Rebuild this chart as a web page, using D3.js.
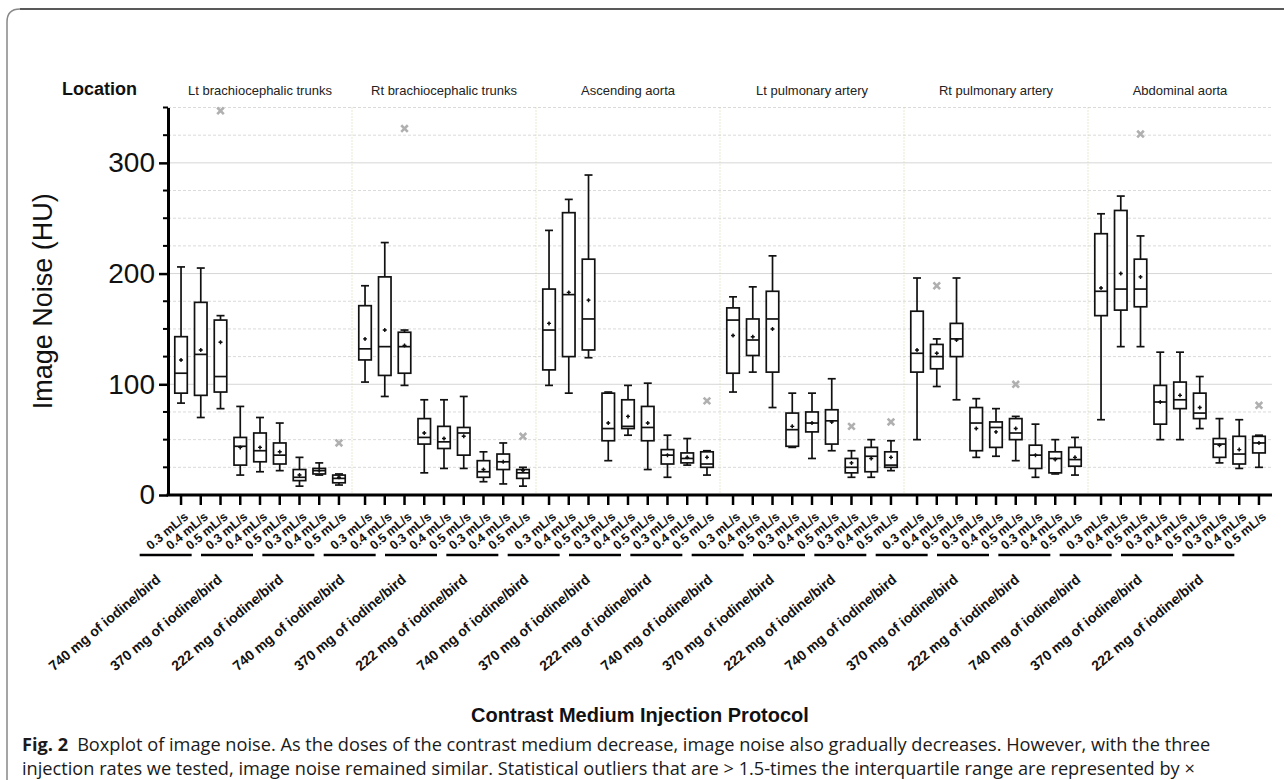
<!DOCTYPE html>
<html>
<head>
<meta charset="utf-8">
<script src="https://cdn.jsdelivr.net/npm/d3@7"></script>
<style>
  body { margin: 0; background: #fff; }
  svg { display: block; font-family: "Liberation Sans", Arial, Helvetica, sans-serif; }
</style>
</head>
<body>
<svg width="1284" height="780"></svg>
<script>
"use strict";

var locations = ["Lt brachiocephalic trunks", "Rt brachiocephalic trunks", "Ascending aorta",
                 "Lt pulmonary artery", "Rt pulmonary artery", "Abdominal aorta"];
var doses = ["740 mg of iodine/bird", "370 mg of iodine/bird", "222 mg of iodine/bird"];
var rates = ["0.3 mL/s", "0.4 mL/s", "0.5 mL/s"];
var yTicks = [0, 100, 200, 300];

// per box, order: location > dose > rate (54 boxes)
var whiskerHigh = [
  206, 205, 162,  80, 70, 65,  34, 29, 19,
  189, 228, 149,  86, 86, 89,  39, 47, 25,
  239, 267, 289,  93, 99, 101, 54, 51, 40,
  179, 188, 216,  92, 92, 105, 40, 50, 49,
  196, 141, 196,  87, 78, 71,  64, 50, 52,
  254, 270, 234, 129, 129, 107, 69, 68, 54
];
var q3 = [
  143, 174, 158,  52, 56, 47,  23, 24, 18,
  171, 197, 147,  69, 62, 61,  31, 37, 23,
  186, 255, 213,  92, 86, 80,  41, 38, 39,
  169, 159, 184,  74, 75, 77,  33, 43, 39,
  166, 136, 155,  79, 66, 69,  45, 39, 43,
  236, 257, 213,  99, 102, 92,  51, 53, 53
];
var median = [
  110, 127, 107,  44, 40, 36,  16, 22, 15,
  132, 134, 134,  52, 48, 56,  21, 30, 20,
  149, 181, 159,  60, 62, 61,  36, 33, 28,
  158, 140, 159,  59, 65, 67,  25, 35, 27,
  128, 125, 141,  65, 61, 56,  36, 33, 32,
  184, 186, 186,  84, 86, 74,  46, 37, 47
];
var q1 = [
   92,  90,  93,  27, 30, 28,  13, 19, 11,
  122, 108, 110,  46, 42, 36,  16, 23, 15,
  113, 125, 131,  49, 60, 49,  28, 29, 25,
  110, 126, 111,  44, 57, 46,  20, 21, 25,
  111, 114, 125,  40, 43, 50,  24, 20, 26,
  162, 167, 170,  64, 78, 69,  34, 28, 38
];
var whiskerLow = [
   83,  70,  78,  18, 21, 22,   8, 18,  9,
  102,  89,  99,  20, 24, 24,  12, 10,  8,
   99,  92, 124,  31, 54, 23,  16, 27, 18,
   93, 111,  79,  43, 33, 40,  16, 16, 22,
   50,  98,  86,  34, 35, 31,  16, 19, 18,
   68, 134, 134,  50, 50, 60,  29, 24, 25
];
var mean = [
  122, 131, 138,  43, 43, 39,  18, 22, 16,
  141, 149, 135,  56, 51, 53,  23, 30, 22,
  155, 183, 176,  65, 71, 65,  36, 34, 34,
  144, 143, 150,  62, 65, 66,  29, 33, 34,
  131, 128, 140,  60, 57, 60,  36, 32, 34,
  187, 200, 197,  84, 90, 79,  45, 41, 47
];
var outliers = [
  { box: 2,  value: 347 },
  { box: 8,  value: 47 },
  { box: 11, value: 331 },
  { box: 17, value: 53 },
  { box: 26, value: 85 },
  { box: 33, value: 62 },
  { box: 35, value: 66 },
  { box: 37, value: 189 },
  { box: 41, value: 100 },
  { box: 47, value: 326 },
  { box: 53, value: 81 }
];

var Draw = (function() {

  var boxes = d3.range(54).map(i => ({
    location: locations[Math.floor(i / 9)],
    dose: doses[Math.floor(i / 3) % 3],
    rate: rates[i % 3],
    combo: i % 9,
    lo: whiskerLow[i], q1: q1[i], med: median[i], q3: q3[i], hi: whiskerHigh[i], mean: mean[i]
  }));

  var svg = d3.select("svg");
  var left = 168, right = 1272, plotTop = 107.5, bottom = 495;

  var y = d3.scaleLinear().domain([0, 350]).range([bottom, plotTop]);
  var panel = d3.scaleBand().domain(locations).range([left, right]);
  var inner = d3.scalePoint().domain(d3.range(9)).range([0, panel.bandwidth()]).padding(0.66);
  var bx = d => panel(d.location) + inner(d.combo);
  // the dose captions underneath are spread evenly over the whole axis
  var groupBand = d3.scaleBand().domain(d3.range(18)).range([left, right]);

  // frame
  svg.append("path").attr("d", "M7,800 L7,22 Q7,9 20,9").attr("fill", "none")
    .attr("stroke", "#888").attr("stroke-width", 1.5);
  svg.append("path").attr("d", "M20,9 L1284,9").attr("stroke", "#222").attr("stroke-width", 1.5);

  // gridlines
  var grid = d3.range(25, 351, 25);
  svg.append("g").selectAll("line").data(grid).join("line")
    .attr("x1", left).attr("x2", right)
    .attr("y1", d => y(d)).attr("y2", d => y(d))
    .attr("stroke", d => d % 100 === 0 ? "#d6d6d6" : "#dadada")
    .attr("stroke-width", 1)
    .attr("stroke-dasharray", d => d % 100 === 0 ? null : "3,2");

  // panel separators
  svg.append("g").selectAll("line").data(locations.slice(1)).join("line")
    .attr("x1", d => panel(d)).attr("x2", d => panel(d))
    .attr("y1", plotTop).attr("y2", bottom)
    .attr("stroke", "#d8d1a4").attr("stroke-width", 1).attr("stroke-dasharray", "1,2");

  // panel titles
  svg.append("g").selectAll("text").data(locations).join("text")
    .attr("x", d => panel(d) + panel.bandwidth() / 2).attr("y", 95)
    .attr("text-anchor", "middle").attr("font-size", 13).attr("fill", "#222")
    .text(d => d);
  svg.append("text").attr("x", 62).attr("y", 95).attr("font-size", 18)
    .attr("font-weight", "bold").attr("fill", "#111").text("Location");

  // y axis
  var yAxis = svg.append("g").attr("transform", `translate(${left},0)`)
    .call(d3.axisLeft(y).tickValues(yTicks).tickSize(9).tickSizeOuter(0).tickPadding(4));
  yAxis.select(".domain").attr("stroke-width", 3);
  yAxis.selectAll(".tick line").attr("stroke-width", 2.5);
  yAxis.selectAll(".tick text").attr("font-size", 28).attr("fill", "#111")
    .attr("font-family", "Liberation Sans, Arial, sans-serif");
  svg.append("g").selectAll("line").data(grid.filter(d => d % 100 !== 0)).join("line")
    .attr("x1", left - 5).attr("x2", left).attr("y1", d => y(d)).attr("y2", d => y(d))
    .attr("stroke", "#000").attr("stroke-width", 2);
  svg.append("text").attr("transform", `translate(52,${(plotTop + bottom) / 2}) rotate(-90)`)
    .attr("text-anchor", "middle").attr("font-size", 27).attr("fill", "#111")
    .text("Image Noise (HU)");

  // x axis
  svg.append("line").attr("x1", left - 1.5).attr("x2", right).attr("y1", bottom).attr("y2", bottom)
    .attr("stroke", "#000").attr("stroke-width", 3);
  svg.append("g").selectAll("line").data(boxes).join("line")
    .attr("x1", bx).attr("x2", bx).attr("y1", bottom).attr("y2", bottom + 10)
    .attr("stroke", "#000").attr("stroke-width", 2.5);
  svg.append("g").selectAll("text").data(boxes).join("text")
    .attr("transform", d => `translate(${bx(d) + 8},518) rotate(-40)`)
    .attr("text-anchor", "end").attr("font-size", 12.5).attr("font-weight", "bold")
    .attr("fill", "#111").text(d => d.rate);

  var groups = d3.range(18);
  svg.append("g").selectAll("line").data(groups).join("line")
    .attr("x1", k => groupBand(k) + groupBand.bandwidth() / 2 - 59)
    .attr("x2", k => groupBand(k) + groupBand.bandwidth() / 2 - 7)
    .attr("y1", 555).attr("y2", 555).attr("stroke", "#000").attr("stroke-width", 2.5);
  svg.append("g").selectAll("text").data(groups).join("text")
    .attr("transform", k => `translate(${groupBand(k) + groupBand.bandwidth() / 2 - 37},581) rotate(-40)`)
    .attr("text-anchor", "end").attr("font-size", 14).attr("font-weight", "bold")
    .attr("fill", "#111").text(k => doses[k % 3]);

  svg.append("text").attr("x", 640).attr("y", 722).attr("text-anchor", "middle")
    .attr("font-size", 20).attr("font-weight", "bold").attr("fill", "#111")
    .text("Contrast Medium Injection Protocol");

  // boxes
  var boxW = 12.5, capW = 8;
  var g = svg.append("g").selectAll("g").data(boxes).join("g")
    .attr("transform", d => `translate(${bx(d)},0)`)
    .attr("stroke", "#111").attr("stroke-width", 1.7).attr("fill", "none");
  g.append("line").attr("y1", d => y(d.hi)).attr("y2", d => y(d.q3));
  g.append("line").attr("y1", d => y(d.lo)).attr("y2", d => y(d.q1));
  g.append("line").attr("x1", -capW / 2).attr("x2", capW / 2).attr("y1", d => y(d.hi)).attr("y2", d => y(d.hi));
  g.append("line").attr("x1", -capW / 2).attr("x2", capW / 2).attr("y1", d => y(d.lo)).attr("y2", d => y(d.lo));
  g.append("rect").attr("x", -boxW / 2).attr("width", boxW)
    .attr("y", d => y(d.q3)).attr("height", d => y(d.q1) - y(d.q3)).attr("fill", "#fff");
  g.append("line").attr("x1", -boxW / 2).attr("x2", boxW / 2).attr("y1", d => y(d.med)).attr("y2", d => y(d.med));
  g.append("path").attr("d", d => `M-2,${y(d.mean)}h4M0,${y(d.mean) - 2}v4`).attr("stroke-width", 1.4);
  g.append("circle").attr("cy", d => y(d.mean)).attr("r", 1.1).attr("fill", "#111").attr("stroke", "none");

  // outliers
  svg.append("g").selectAll("path").data(outliers).join("path")
    .attr("d", o => {
      var cx = bx(boxes[o.box]), cy = y(o.value), s = 3.3;
      return `M${cx - s},${cy - s}L${cx + s},${cy + s}M${cx - s},${cy + s}L${cx + s},${cy - s}`;
    })
    .attr("stroke", "#b0b0b0").attr("stroke-width", 2.6).attr("fill", "none");

  // caption
  var cap = svg.append("g").attr("font-family", "Open Sans, Noto Sans, sans-serif")
    .attr("font-size", 18.2).attr("fill", "#1a1a1a");
  var l1 = cap.append("text").attr("x", 22).attr("y", 751);
  l1.append("tspan").attr("font-weight", "bold").text("Fig. 2");
  l1.append("tspan").attr("dx", 9).text("Boxplot of image noise. As the doses of the contrast medium decrease, image noise also gradually decreases. However, with the three");
  cap.append("text").attr("x", 22).attr("y", 775)
    .text("injection rates we tested, image noise remained similar. Statistical outliers that are > 1.5-times the interquartile range are represented by \u00d7");
});

Draw();
</script>
</body>
</html>
